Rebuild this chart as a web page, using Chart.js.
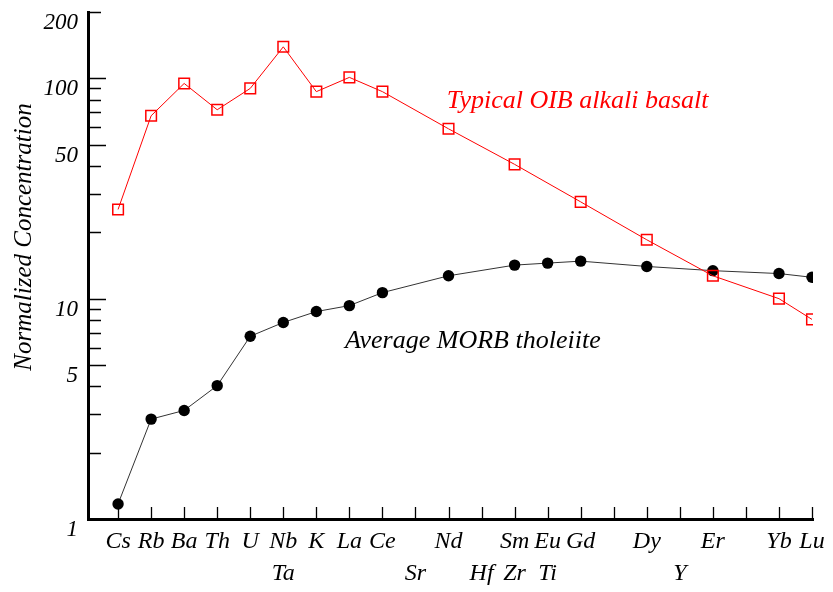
<!DOCTYPE html>
<html>
<head>
<meta charset="utf-8">
<script src="https://cdn.jsdelivr.net/npm/chart.js@4.4.1/dist/chart.umd.min.js"></script>
<style>
  body{margin:0;background:#fff}
  .wrap{width:833px;height:592px;position:relative}
</style>
</head>
<body>
<div class="wrap"><canvas id="c1"></canvas></div>
<script>
// slots along the x axis, two label rows
const labelTop    = ['Cs','Rb','Ba','Th','U','Nb','K','La','Ce','','Nd','','Sm','Eu','Gd','','Dy','','Er','','Yb','Lu'];
const labelBottom = ['','','','','','Ta','','','','Sr','','Hf','Zr','Ti','','','','Y','','','',''];

// normalized concentrations (null = no point in that slot)
const oib  = [25.4, 67.6, 94.8, 72, 90, 139, 87, 101, 87, null, 59, null, 40.7, null, 27.5, null, 18.5, null, 12.7, null, 10, 8.05];
const morb = [1.17, 2.84, 3.11, 4.03, 6.75, 7.8, 8.74, 9.3, 10.65, null, 12.7, null, 14.2, 14.5, 14.8, null, 14.0, null, 13.4, null, 13.0, 12.5];

// y axis ticks and which of them get a number
const yTicks  = [1,2,3,4,5,6,7,8,9,10,20,30,40,50,60,70,80,90,100,200];
const yLabels = [1,5,10,50,100,200];

const FONT = '"Liberation Serif", "Times New Roman", serif';

// labels written on the plot
const notes = [
  {text:'Typical OIB alkali basalt', x:9.95, y:73, color:'#ff0000'},
  {text:'Average MORB tholeiite', x:6.87, y:5.95, color:'#000'}
];

function pts(arr){
  return arr.map((v,i) => ({x:i, y:v}));
}

// ticks point inward, plus titles / notes
const extras = {
  id:'extras',
  beforeDatasetsDraw(chart){
    const ctx = chart.ctx, xs = chart.scales.x, ys = chart.scales.y, a = chart.chartArea;
    ctx.save();
    ctx.strokeStyle = '#000';
    ctx.lineWidth = 1.3;
    ctx.beginPath();
    yTicks.forEach(v => {
      if (v == 1) return;
      const py = Math.round(ys.getPixelForValue(v)) + 0.5;
      const len = [5,10,50,100].includes(v) ? 18 : 13;
      ctx.moveTo(a.left, py); ctx.lineTo(a.left + len, py);
    });
    labelTop.forEach((t,i) => {
      const px = Math.round(xs.getPixelForValue(i)) + 0.5;
      ctx.moveTo(px, a.bottom); ctx.lineTo(px, a.bottom - 12);
    });
    ctx.stroke();
    ctx.restore();
  },
  afterDraw(chart){
    const ctx = chart.ctx, xs = chart.scales.x, ys = chart.scales.y;
    ctx.save();
    ctx.font = 'italic 26px ' + FONT;
    ctx.textAlign = 'left';
    ctx.textBaseline = 'alphabetic';
    notes.forEach(n => {
      ctx.fillStyle = n.color;
      ctx.fillText(n.text, xs.getPixelForValue(n.x), ys.getPixelForValue(n.y));
    });
    // y title
    ctx.font = 'italic 25px ' + FONT;
    ctx.fillStyle = '#000';
    ctx.translate(24, 237);
    ctx.rotate(-Math.PI/2);
    ctx.textAlign = 'center';
    ctx.textBaseline = 'middle';
    ctx.fillText('Normalized Concentration', 0, 0);
    ctx.restore();
  }
};

const ctx = document.querySelector('#c1');

new Chart(ctx, {
  type:'line',
  data:{
    datasets:[{
      label:'OIB',
      data:pts(oib),
      borderColor:'#ff0000',
      borderWidth:1,
      pointStyle:'rect',
      pointRadius:7.5,
      pointBorderWidth:1.5,
      pointBorderColor:'#ff0000',
      pointBackgroundColor:'rgba(0,0,0,0)',
      spanGaps:true
    },{
      label:'MORB',
      data:pts(morb),
      borderColor:'#333',
      borderWidth:1,
      pointStyle:'circle',
      pointRadius:5.7,
      pointBorderWidth:0,
      pointBackgroundColor:'#000',
      spanGaps:true
    }]
  },
  options:{
    responsive:true,
    maintainAspectRatio:false,
    animation:false,
    layout:{padding:{left:0, right:20, top:12, bottom:0}},
    plugins:{legend:{display:false}, tooltip:{enabled:false}},
    scales:{
      x:{
        type:'linear',
        min:-0.91,
        max:21.03,
        afterBuildTicks: s => { s.ticks = labelTop.map((t,i) => ({value:i})); },
        afterFit: s => { s.height = 73; s.paddingLeft = 0; s.paddingRight = 0; },
        grid:{drawOnChartArea:false, drawTicks:false},
        border:{display:true, width:3, color:'#000'},
        ticks:{
          autoSkip:false, maxRotation:0, padding:6, color:'#000',
          font:{family:FONT, size:24, style:'italic', lineHeight:1.35},
          callback: v => [labelTop[v] || '', labelBottom[v] || '']
        }
      },
      y:{
        type:'logarithmic',
        min:1,
        max:200,
        afterBuildTicks: s => { s.ticks = yTicks.map(v => ({value:v})); },
        afterFit: s => { s.width = 88; s.paddingTop = 0; s.paddingBottom = 0; },
        grid:{drawOnChartArea:false, drawTicks:false},
        border:{display:true, width:3, color:'#000'},
        ticks:{
          autoSkip:false, padding:10, labelOffset:11, color:'#000',
          font:{family:FONT, size:23, style:'italic'},
          callback: v => yLabels.includes(v) ? String(v) : ''
        }
      }
    }
  },
  plugins:[extras]
});
</script>
</body>
</html>
